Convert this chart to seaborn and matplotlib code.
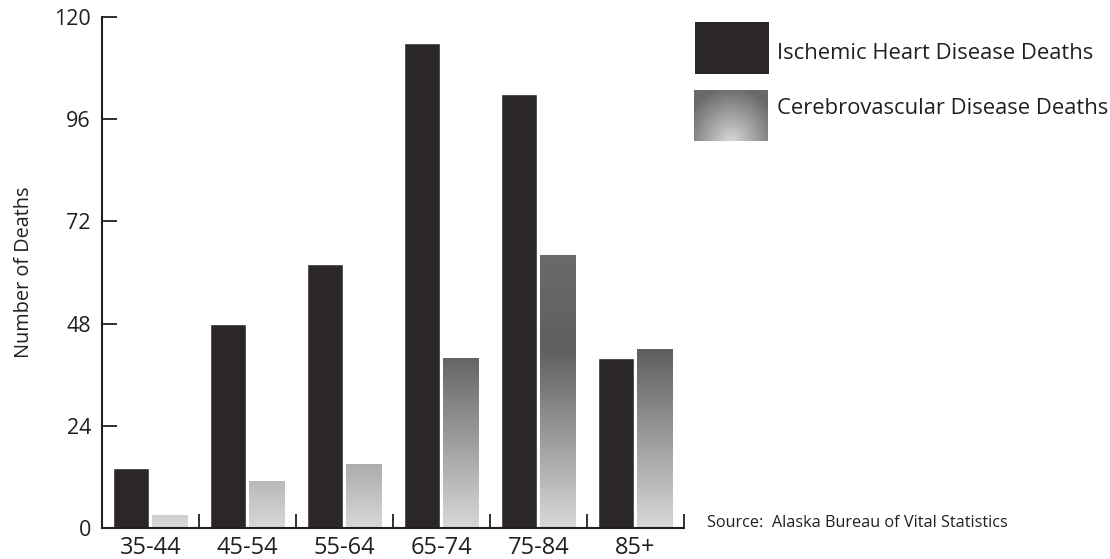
import numpy as np
import pandas as pd
import matplotlib
matplotlib.use("Agg")
import matplotlib.pyplot as plt
from matplotlib.colors import LinearSegmentedColormap
from matplotlib.patches import Rectangle
import seaborn as sns

# Deaths by age group, Alaska
age_groups = ["35-44", "45-54", "55-64", "65-74", "75-84", "85+"]
ischemic = [14, 48, 62, 114, 102, 40]
cerebro = [3, 11, 15, 40, 64, 42]
series_names = ["Ischemic Heart Disease Deaths", "Cerebrovascular Disease Deaths"]
y_ticks = [0, 24, 48, 72, 96, 120]

sns.set_style("white")
plt.rcParams["font.family"] = ["Open Sans", "DejaVu Sans"]

INK = "#231f20"
BAR_DARK = "#2b2727"

df = pd.DataFrame({
    "age": age_groups * 2,
    "deaths": ischemic + cerebro,
    "cause": [series_names[0]] * len(age_groups) + [series_names[1]] * len(age_groups),
})

fig = plt.figure(figsize=(11.1, 5.59), dpi=100)
ax = fig.add_axes([102 / 1110, 31 / 559, 582 / 1110, 511 / 559])

sns.barplot(data=df, x="age", y="deaths", hue="cause", hue_order=series_names,
            palette=[BAR_DARK, "#bbbbbd"], saturation=1, width=0.8, gap=0.075,
            legend=False, ax=ax)

ax.set_xlim(-0.5, 5.5)
ax.set_ylim(0, 120)

# Grey gradient fill for cerebrovascular bars, shaded by height in data units
grad_cmap = LinearSegmentedColormap.from_list(
    "cerebro", [(0.0, "#d7d8da"), (42 / 64, "#5f5f61"), (1.0, "#6a6a6c")])
for patch in ax.containers[1]:
    x0, w, h = patch.get_x(), patch.get_width(), patch.get_height()
    patch.set_facecolor("none")
    patch.set_edgecolor("none")
    vals = np.linspace(0, h, 200).reshape(-1, 1)
    im = ax.imshow(vals, extent=[x0, x0 + w, 0, h], origin="lower", aspect="auto",
                   cmap=grad_cmap, vmin=0, vmax=64, interpolation="bilinear", zorder=2)
    im.set_clip_path(patch)
ax.set_xlim(-0.5, 5.5)
ax.set_ylim(0, 120)
ax.set_aspect("auto")

# Axes styling
for side in ["top", "right"]:
    ax.spines[side].set_visible(False)
for side in ["left", "bottom"]:
    ax.spines[side].set_color(INK)
    ax.spines[side].set_linewidth(1.5)

ax.set_yticks(y_ticks)
ax.set_yticklabels([str(v) for v in y_ticks])
ax.tick_params(axis="y", left=True, direction="in", length=11, width=1.3, color=INK,
               labelsize=15.5, labelcolor=INK, pad=8)
ax.set_xticks(range(len(age_groups)))
ax.set_xticklabels(age_groups)
ax.set_xticks(np.arange(0.5, len(age_groups), 1.0), minor=True)
ax.tick_params(axis="x", which="major", bottom=True, length=0, labelsize=17,
               labelcolor=INK, pad=6)
ax.tick_params(axis="x", which="minor", bottom=True, direction="in", length=10,
               width=1.3, color=INK)

ax.set_xlabel("")
ax.set_ylabel("Number of Deaths", fontsize=14.3, color=INK)
ax.yaxis.set_label_coords(-0.117, 0.5)

# Legend drawn in figure coordinates
fig.patches.append(Rectangle((695 / 1110, 1 - 74 / 559), 74 / 1110, 52 / 559,
                             transform=fig.transFigure, facecolor=BAR_DARK,
                             edgecolor="none"))
lax = fig.add_axes([694 / 1110, 1 - 141 / 559, 74 / 1110, 51 / 559])
gx, gy = np.meshgrid(np.linspace(-1, 1, 120), np.linspace(0, 1, 90))
dist = np.sqrt((gx / 1.35) ** 2 + ((gy + 0.05) / 1.1) ** 2)
legend_cmap = LinearSegmentedColormap.from_list("legend_grad", ["#dadadc", "#69696b"])
lax.imshow(np.clip(dist, 0, 1), origin="lower", aspect="auto", cmap=legend_cmap,
           vmin=0, vmax=1, interpolation="bilinear")
lax.set_axis_off()

fig.text(777 / 1110, 1 - 59 / 559, series_names[0], fontsize=15.8, color=INK,
         ha="left", va="baseline")
fig.text(777 / 1110, 1 - 114 / 559, series_names[1], fontsize=15.8, color=INK,
         ha="left", va="baseline")

fig.text(707 / 1110, 1 - 527 / 559, "Source:  Alaska Bureau of Vital Statistics",
         fontsize=11.7, color=INK, ha="left", va="baseline")

fig.savefig("out.png", dpi=100)
